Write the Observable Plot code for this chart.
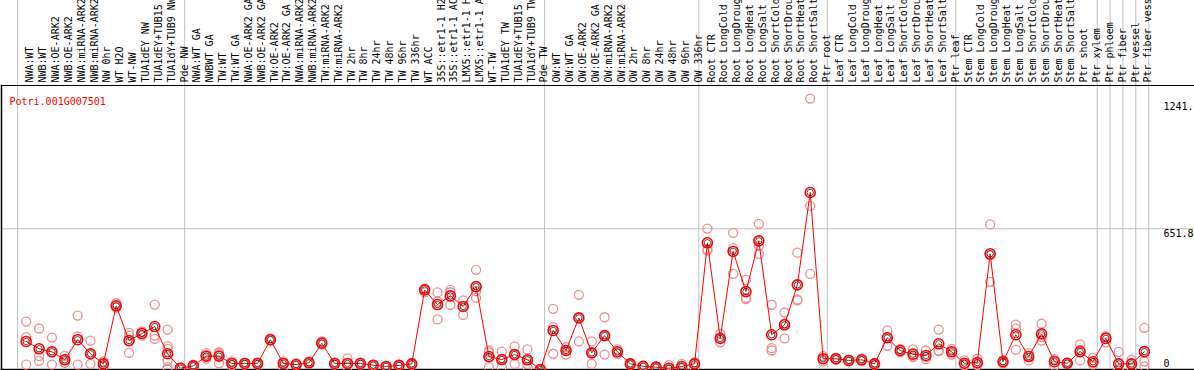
<!DOCTYPE html>
<html><head><meta charset="utf-8">
<script src="https://cdn.jsdelivr.net/npm/d3@7"></script>
<script src="https://cdn.jsdelivr.net/npm/@observablehq/plot@0.6"></script>
<style>body{margin:0;background:#fff;}</style>
</head><body><div id="chart"></div>
<script>
const categories = [
  "NWA:WT","NWB:WT","NWA:OE-ARK2","NWB:OE-ARK2","NWA:miRNA-ARK2","NWB:miRNA-ARK2","NW 0hr","WT H2O","WT-NW","TUA1dEY NW",
  "TUA1dEY+TUB15 NW","TUA1dY+TUB9 NW","Pde NW","NWA:WT GA","NWBWT GA","TW:WT","TW:WT GA","NWA:OE-ARK2 GA","NWB:OE-ARK2 GA","TW:OE-ARK2",
  "TW:OE-ARK2 GA","NWA:miRNA-ARK2 GA","NWB:miRNA-ARK2 GA","TW:miRNA-ARK2","TW:miRNA-ARK2 GA","TW 2hr","TW 8hr","TW 24hr","TW 48hr","TW 96hr",
  "TW 336hr","WT ACC","35S::etr1-1 H2O","35S::etr1-1 ACC","LMX5::etr1-1 H2O","LMX5::etr1-1 ACC","WT-TW","TUA1dEY TW","TUA1dEY+TUB15 TW","TUA1dY+TUB9 TW",
  "Pde TW","OW:WT","OW:WT GA","OW:OE-ARK2","OW:OE-ARK2 GA","OW:miRNA-ARK2","OW:miRNA-ARK2 GA","OW 2hr","OW 8hr","OW 24hr",
  "OW 48hr","OW 96hr","OW 336hr","Root CTR","Root LongCold","Root LongDrought","Root LongHeat","Root LongSalt","Root ShortCold","Root ShortDrought",
  "Root ShortHeat","Root ShortSalt","Ptr root","Leaf CTR","Leaf LongCold","Leaf LongDrought","Leaf LongHeat","Leaf LongSalt","Leaf ShortCold","Leaf ShortDrought",
  "Leaf ShortHeat","Leaf ShortSalt","Ptr leaf","Stem CTR","Stem LongCold","Stem LongDrought","Stem LongHeat","Stem LongSalt","Stem ShortCold","Stem ShortDrought",
  "Stem ShortHeat","Stem ShortSalt","Ptr shoot","Ptr xylem","Ptr phloem","Ptr fiber","Ptr vessel","Ptr fiber vessel"
];
const means = [
  130,96,82,45,138,73,26,295,134,167,
  199,73,6,17,62,62,28,28,28,138,
  28,23,31,122,28,28,28,20,14,19,
  26,369,301,341,292,384,60,46,69,45,
  0,181,88,239,77,157,82,26,15,11,
  6,14,26,587,144,547,361,596,161,207,
  392,820,50,50,42,45,26,147,88,71,
  65,119,82,29,32,536,36,161,60,165,
  36,29,83,36,144,26,26,83
];
const replicates = [
  [222,150,23],[190,62,40],[148,82,23],[63,45,31],[250,153,23],[134,73,26],[37,26,14],[307,295,287],[170,157,77],[176,167,157],
  [301,157,142],[185,108,96,42,11,0],[9,5,5],[23,17,14],[76,62,50],[80,74,29],[38,28,19],[32,28,23],[32,28,23],[144,138,134],
  [38,28,11],[28,23,19],[37,31,28],[130,122,116],[32,28,23],[52,28,11],[32,28,23],[23,20,17],[17,14,11],[23,19,14],
  [30,26,22],[375,369,357],[357,315,232],[369,358,300],[320,292,253],[462,363,332],[88,80,56,11],[83,46,11],[107,69,26],[93,45,26,11],
  [0,0,0],[281,196,73],[103,88,69],[346,239,130],[130,77,26],[242,157,69],[93,82,72],[30,26,22],[18,15,12],[14,11,8],
  [20,0,0],[26,10,6],[34,26,11],[653,557,551],[165,144,126],[633,562,443],[415,332,326],[675,573,536],[300,99,88],[264,213,144],
  [541,324,320],[1255,758,443],[62,50,38],[55,50,45],[46,42,38],[50,45,40],[30,26,22],[181,150,110],[96,88,80],[93,63,57],
  [88,59,48],[185,88,85],[95,82,69],[42,26,19],[50,26,20],[672,530,406],[43,36,29],[208,189,91],[76,62,42],[212,150,134],
  [48,43,17],[32,29,26],[116,91,42],[54,31,23],[153,153,126],[82,0,0],[45,26,8],[193,37,15]
];
const groupStarts = ["NWA:WT","NWA:WT GA","OW:WT","Root CTR","Leaf CTR","Stem CTR","Ptr phloem","Ptr fiber","Ptr vessel","Ptr fiber vessel"];
const yTicks = [0, 651.8, 1241.6];
const yTickLabels = ["0", "651.8", "1241.6"];
const geneName = "Potri.001G007501";

const meanRows = categories.map((c, i) => ({cat: c, value: means[i]}));
const repRows = categories.flatMap((c, i) => replicates[i].map(v => ({cat: c, value: v})));
const tickRows = yTicks.map((v, i) => ({v, label: yTickLabels[i]}));
const mono = "DejaVu Sans Mono";

const plot = Plot.plot({
  width: 1194, height: 370,
  marginTop: 85, marginBottom: 1, marginLeft: 1, marginRight: 0,
  style: {fontFamily: mono, fontSize: "10px", background: "white", overflow: "hidden"},
  x: {type: "point", domain: categories, range: [19.3, 1150.3], axis: null},
  y: {domain: [0, 1241.6], range: [369, 101], axis: null},
  marks: [
    Plot.ruleX(groupStarts, {x: d => d, dx: -8.6, stroke: "#c0c0c0", insetTop: -85}),
    Plot.ruleX([categories[categories.length - 1]], {x: d => d, dx: 4.4, stroke: "#c0c0c0", insetTop: -85}),
    Plot.ruleY([yTicks[1]], {y: d => d, stroke: "#c0c0c0"}),
    Plot.frame({anchor: "top", stroke: "black"}),
    Plot.frame({anchor: "left", stroke: "black", strokeWidth: 1.5}),
    Plot.frame({anchor: "bottom", stroke: "black", strokeWidth: 1.5}),
    Plot.text(categories, {x: d => d, text: d => d, frameAnchor: "top", rotate: -90, textAnchor: "start", dy: -3, fill: "black", fontFamily: mono, fontSize: 10}),
    Plot.text([geneName], {frameAnchor: "top-left", text: d => d, dx: 8, dy: 12, fill: "red", textAnchor: "start", fontFamily: mono, fontSize: 10}),
    Plot.text(tickRows.filter(d => d.v > 0), {y: "v", text: "label", frameAnchor: "right", textAnchor: "start", lineAnchor: "top", dx: -31, dy: 1, fill: "black", fontFamily: mono, fontSize: 10}),
    Plot.text(tickRows.filter(d => d.v === 0), {y: "v", text: "label", frameAnchor: "right", textAnchor: "start", lineAnchor: "bottom", dx: -31, dy: -3, fill: "black", fontFamily: mono, fontSize: 10}),
    Plot.dot(repRows, {x: "cat", y: "value", r: 4.5, stroke: "#eb9090", strokeWidth: 1.3}),
    Plot.line(meanRows, {x: "cat", y: "value", stroke: "red", strokeWidth: 1}),
    Plot.dot(meanRows, {x: "cat", y: "value", r: 5, stroke: "red", strokeWidth: 1.6}),
    Plot.dot(meanRows, {x: "cat", y: "value", r: 3.2, stroke: "black", strokeWidth: 0.7})
  ]
});
document.getElementById("chart").appendChild(plot);
</script>
</body></html>
